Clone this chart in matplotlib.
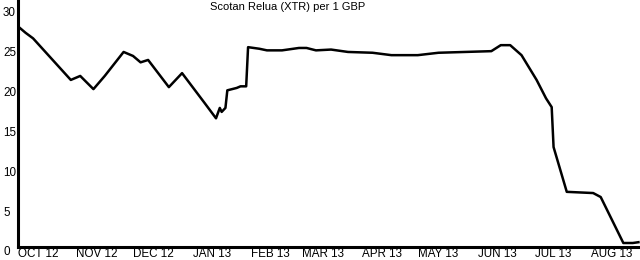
import matplotlib
matplotlib.use("Agg")
import matplotlib.pyplot as plt
import pandas as pd

# rate series (XTR per 1 GBP)
dates = ["2012-10-04", "2012-10-08", "2012-10-12", "2012-11-01", "2012-11-06", "2012-11-13",
         "2012-11-19", "2012-11-29", "2012-12-04", "2012-12-08", "2012-12-12",
         "2012-12-23", "2012-12-30", "2013-01-11", "2013-01-17", "2013-01-19",
         "2013-01-20", "2013-01-22", "2013-01-23", "2013-01-28", "2013-01-30",
         "2013-02-02", "2013-02-03", "2013-02-09", "2013-02-13", "2013-02-21",
         "2013-03-02", "2013-03-06", "2013-03-11", "2013-03-19", "2013-03-28",
         "2013-04-10", "2013-04-20", "2013-05-04", "2013-05-15", "2013-06-12",
         "2013-06-17", "2013-06-22", "2013-06-28", "2013-07-06", "2013-07-11",
         "2013-07-14", "2013-07-15", "2013-07-22", "2013-08-05", "2013-08-09",
         "2013-08-21", "2013-08-26", "2013-08-29"]
rates = [28.1, 27.3, 26.6, 21.4, 21.9, 20.25,
         21.9, 24.9, 24.4, 23.6, 23.9,
         20.5, 22.25, 18.5, 16.6, 17.9,
         17.4, 17.9, 20.1, 20.4, 20.6,
         20.6, 25.5, 25.3, 25.1, 25.1,
         25.4, 25.4, 25.1, 25.2, 24.9,
         24.8, 24.5, 24.5, 24.8, 25.0,
         25.75, 25.75, 24.5, 21.4, 19.1,
         18.0, 13.0, 7.4, 7.25, 6.75,
         1.0, 1.0, 1.1]

tick_dates = ["2012-10-15", "2012-11-15", "2012-12-15", "2013-01-15", "2013-02-15",
              "2013-03-15", "2013-04-15", "2013-05-15", "2013-06-15", "2013-07-15",
              "2013-08-15"]
tick_labels = ["OCT 12", "NOV 12", "DEC 12", "JAN 13", "FEB 13", "MAR 13",
               "APR 13", "MAY 13", "JUN 13", "JUL 13", "AUG 13"]
y_ticks = [5, 10, 15, 20, 25, 30]

plt.rcParams["font.family"] = ["Liberation Sans", "DejaVu Sans"]

x = pd.to_datetime(dates)
fig = plt.figure(figsize=(6.4, 2.6), dpi=100)
ax = fig.add_axes([18 / 640, 13 / 260, 622 / 640, 247 / 260])

ax.plot(x, rates, color="black", linewidth=1.8, solid_joinstyle="round")

ax.set_xlim(pd.Timestamp("2012-10-04"), pd.Timestamp("2013-08-29 20:00"))
ax.set_ylim(0.5, 31.4)

ax.set_xticks(pd.to_datetime(tick_dates))
ax.set_xticklabels(tick_labels)
ax.set_yticks(y_ticks)
ax.set_yticklabels([str(v) for v in y_ticks], ha="left")
ax.tick_params(axis="both", length=0, labelsize=8.4)
ax.tick_params(axis="y", pad=10.8)
ax.tick_params(axis="x", pad=0.5)

# the zero label sits just under the x axis line
fig.text(3 / 640, 1 - 252 / 260, "0", ha="left", va="center", fontsize=8.4)

for s in ["top", "right"]:
    ax.spines[s].set_visible(False)
for s in ["left", "bottom"]:
    ax.spines[s].set_linewidth(2.2)

fig.text(288 / 640, 1 - 7 / 260, "Scotan Relua (XTR) per 1 GBP",
         ha="center", va="center", fontsize=8)

fig.savefig("out.png", dpi=100)
